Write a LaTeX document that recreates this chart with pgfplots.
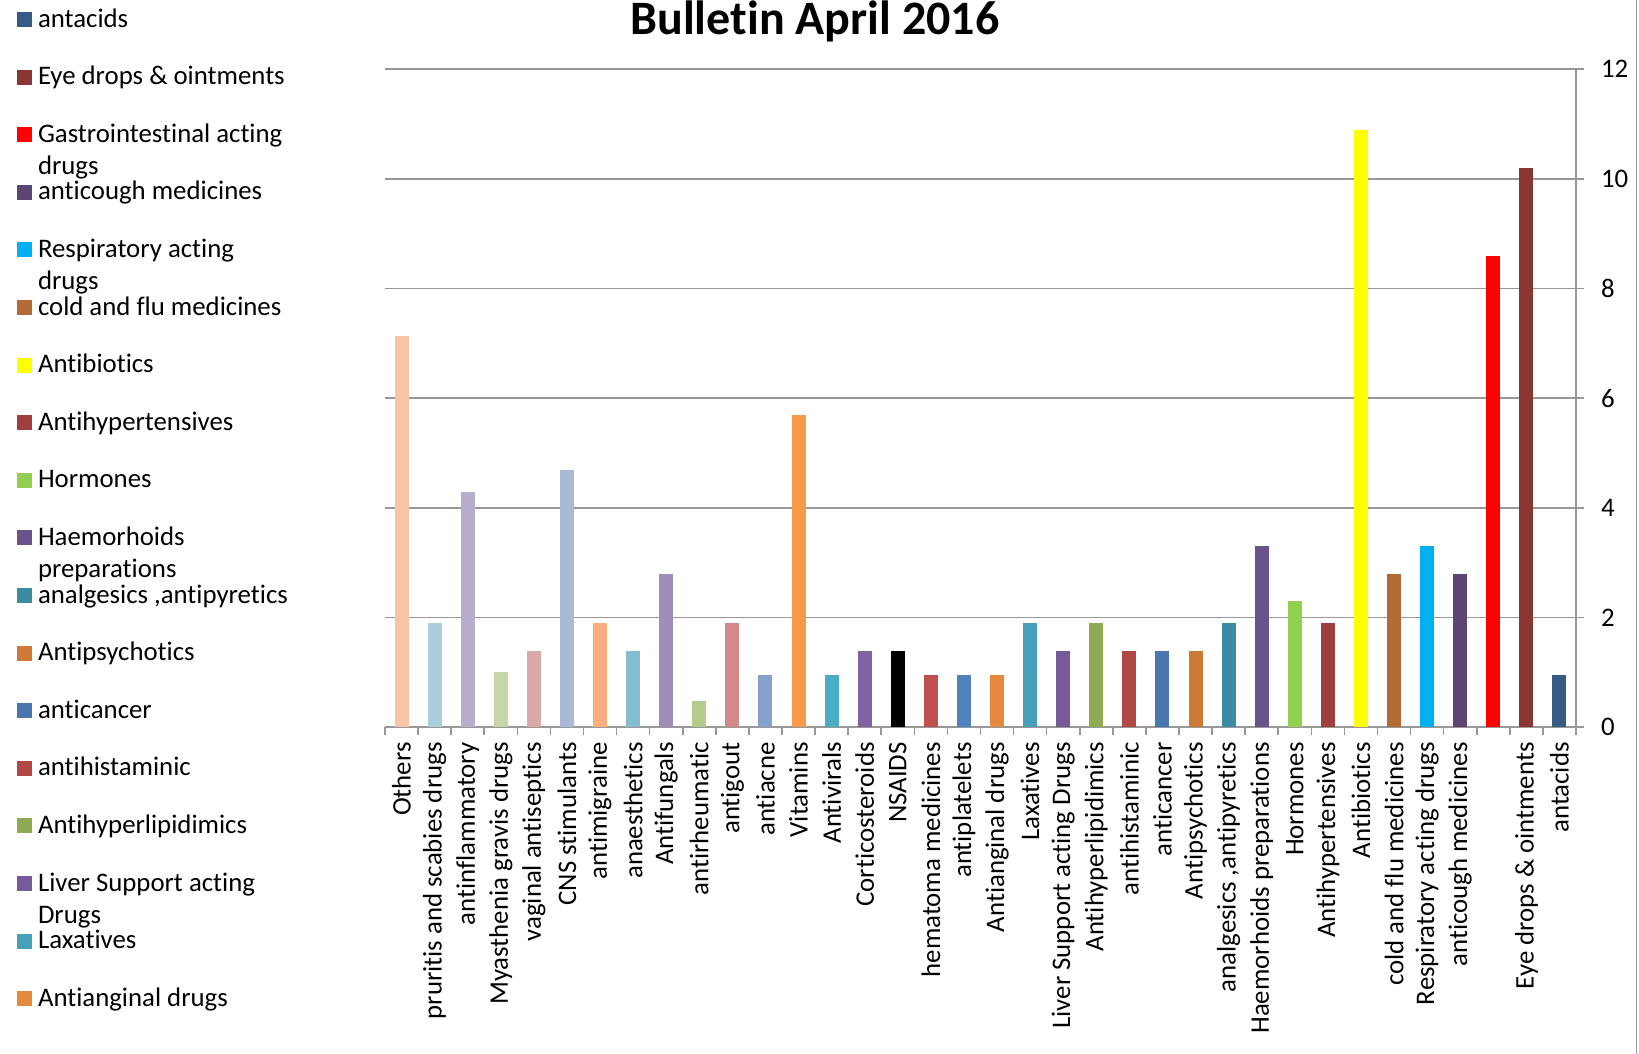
\documentclass[border=0pt]{standalone}
\usepackage{pgfplots}
\pgfplotsset{compat=1.18}
\usepackage{fontspec}
\setmainfont{Carlito}[Ligatures=NoCommon]
\definecolor{c0}{HTML}{F9C3A8}
\definecolor{c1}{HTML}{A9CFDD}
\definecolor{c2}{HTML}{B8AECB}
\definecolor{c3}{HTML}{C6D6AB}
\definecolor{c4}{HTML}{DBA9A8}
\definecolor{c5}{HTML}{AAB9D6}
\definecolor{c6}{HTML}{F9AE7D}
\definecolor{c7}{HTML}{84BDD0}
\definecolor{c8}{HTML}{A08EB8}
\definecolor{c9}{HTML}{B4CB8D}
\definecolor{c10}{HTML}{D38987}
\definecolor{c11}{HTML}{87A1CD}
\definecolor{c12}{HTML}{F79A4A}
\definecolor{c13}{HTML}{4AADC6}
\definecolor{c14}{HTML}{8064A2}
\definecolor{c15}{HTML}{000000}
\definecolor{c16}{HTML}{C0504D}
\definecolor{c17}{HTML}{4F81BD}
\definecolor{c18}{HTML}{E5893C}
\definecolor{c19}{HTML}{46A0BA}
\definecolor{c20}{HTML}{775A9A}
\definecolor{c21}{HTML}{8EAA52}
\definecolor{c22}{HTML}{B24846}
\definecolor{c23}{HTML}{4A76AE}
\definecolor{c24}{HTML}{CD7A37}
\definecolor{c25}{HTML}{3B8BA3}
\definecolor{c26}{HTML}{69538B}
\definecolor{c27}{HTML}{92D050}
\definecolor{c28}{HTML}{A0403E}
\definecolor{c29}{HTML}{FFFF00}
\definecolor{c30}{HTML}{B46A34}
\definecolor{c31}{HTML}{00B0F0}
\definecolor{c32}{HTML}{5C4573}
\definecolor{c33}{HTML}{FF0000}
\definecolor{c34}{HTML}{8B3634}
\definecolor{c35}{HTML}{365B85}
\definecolor{gridgray}{HTML}{989898}
\pgfplotsset{
  mybar/.style={ybar, bar width=7pt, bar shift=0pt, draw=none, fill=#1,
    legend image code/.code={\fill[#1,draw=none] (0pt,0pt) rectangle (7.5pt,7.5pt);}},
}
\begin{document}
\begin{tikzpicture}
\begin{axis}[
  at={(192.5pt,163.35pt)}, anchor=south west,
  scale only axis, width=595.5pt, height=329pt,
  xmin=-0.5, xmax=35.5, ymin=0, ymax=12,
  axis x line*=bottom, axis y line*=right,
  axis line style={draw=gridgray, line width=0.8pt},
  ymajorgrids, grid style={draw=gridgray, line width=0.8pt},
  ytick={0,2,...,12},
  xtick={0,...,35},
  major x tick style={draw=none},
  minor xtick={-0.5,0.5,...,35.5},
  minor x tick style={draw=gridgray, line width=0.8pt},
  major y tick style={draw=gridgray, line width=0.8pt},
  tick align=outside, major tick length=4pt, minor tick length=4pt,
  /pgf/number format/assume math mode=true,
  yticklabel style={font=\fontsize{13.4}{15}\selectfont, xshift=5pt},
  xticklabel style={font=\fontsize{13.4}{15}\selectfont, rotate=90, anchor=east, yshift=0pt},
  xticklabels={Others,pruritis and scabies drugs,antinflammatory,Myasthenia gravis drugs,vaginal antiseptics,CNS stimulants,antimigraine,anaesthetics,Antifungals,antirheumatic,antigout,antiacne,Vitamins,Antivirals,Corticosteroids,NSAIDS,hematoma medicines,antiplatelets,Antianginal drugs,Laxatives,Liver Support acting Drugs,Antihyperlipidimics,antihistaminic,anticancer,Antipsychotics,{analgesics ,antipyretics},Haemorhoids preparations,Hormones,Antihypertensives,Antibiotics,cold and flu medicines,Respiratory acting drugs,anticough medicines,{},Eye drops \& ointments,antacids},
  reverse legend,
  legend style={at={(-0.30898,1.09468)}, anchor=north west, draw=none, fill=none,
    inner sep=0pt, outer sep=0pt, column sep=3pt, row sep=0pt,
    font=\fontsize{13.4}{16}\selectfont,
    cells={anchor=base west},
    nodes={inner sep=0pt, text height=10pt, text depth=18.8pt}},
]
\addplot[mybar=c0, forget plot] coordinates {(0,7.14)};
\addplot[mybar=c1, forget plot] coordinates {(1,1.9)};
\addplot[mybar=c2, forget plot] coordinates {(2,4.3)};
\addplot[mybar=c3, forget plot] coordinates {(3,1.0)};
\addplot[mybar=c4, forget plot] coordinates {(4,1.4)};
\addplot[mybar=c5, forget plot] coordinates {(5,4.7)};
\addplot[mybar=c6, forget plot] coordinates {(6,1.9)};
\addplot[mybar=c7, forget plot] coordinates {(7,1.4)};
\addplot[mybar=c8, forget plot] coordinates {(8,2.8)};
\addplot[mybar=c9, forget plot] coordinates {(9,0.48)};
\addplot[mybar=c10, forget plot] coordinates {(10,1.9)};
\addplot[mybar=c11, forget plot] coordinates {(11,0.95)};
\addplot[mybar=c12, forget plot] coordinates {(12,5.7)};
\addplot[mybar=c13, forget plot] coordinates {(13,0.95)};
\addplot[mybar=c14, forget plot] coordinates {(14,1.4)};
\addplot[mybar=c15, forget plot] coordinates {(15,1.4)};
\addplot[mybar=c16, forget plot] coordinates {(16,0.95)};
\addplot[mybar=c17, forget plot] coordinates {(17,0.95)};
\addplot[mybar=c18] coordinates {(18,0.95)};
\addlegendentry{Antianginal drugs}
\addplot[mybar=c19] coordinates {(19,1.9)};
\addlegendentry{Laxatives}
\addplot[mybar=c20] coordinates {(20,1.4)};
\addlegendentry{\parbox[t]{150pt}{Liver Support acting\\Drugs}}
\addplot[mybar=c21] coordinates {(21,1.9)};
\addlegendentry{Antihyperlipidimics}
\addplot[mybar=c22] coordinates {(22,1.4)};
\addlegendentry{antihistaminic}
\addplot[mybar=c23] coordinates {(23,1.4)};
\addlegendentry{anticancer}
\addplot[mybar=c24] coordinates {(24,1.4)};
\addlegendentry{Antipsychotics}
\addplot[mybar=c25] coordinates {(25,1.9)};
\addlegendentry{analgesics ,antipyretics}
\addplot[mybar=c26] coordinates {(26,3.3)};
\addlegendentry{\parbox[t]{150pt}{Haemorhoids\\preparations}}
\addplot[mybar=c27] coordinates {(27,2.3)};
\addlegendentry{Hormones}
\addplot[mybar=c28] coordinates {(28,1.9)};
\addlegendentry{Antihypertensives}
\addplot[mybar=c29] coordinates {(29,10.9)};
\addlegendentry{Antibiotics}
\addplot[mybar=c30] coordinates {(30,2.8)};
\addlegendentry{cold and flu medicines}
\addplot[mybar=c31] coordinates {(31,3.3)};
\addlegendentry{\parbox[t]{150pt}{Respiratory acting\\drugs}}
\addplot[mybar=c32] coordinates {(32,2.8)};
\addlegendentry{anticough medicines}
\addplot[mybar=c33] coordinates {(33,8.6)};
\addlegendentry{\parbox[t]{150pt}{Gastrointestinal acting\\drugs}}
\addplot[mybar=c34] coordinates {(34,10.2)};
\addlegendentry{Eye drops \& ointments}
\addplot[mybar=c35] coordinates {(35,0.95)};
\addlegendentry{antacids}
\end{axis}
\node[font=\bfseries\fontsize{24}{26}\selectfont, anchor=base] at (407.4pt,509.5pt) {Bulletin April 2016};
\draw[gridgray, line width=0.8pt] (818.25pt,0pt) -- (818.25pt,527pt);
\pgfresetboundingbox
\useasboundingbox (0pt,0pt) rectangle (819.5pt,527pt);
\end{tikzpicture}
\end{document}
